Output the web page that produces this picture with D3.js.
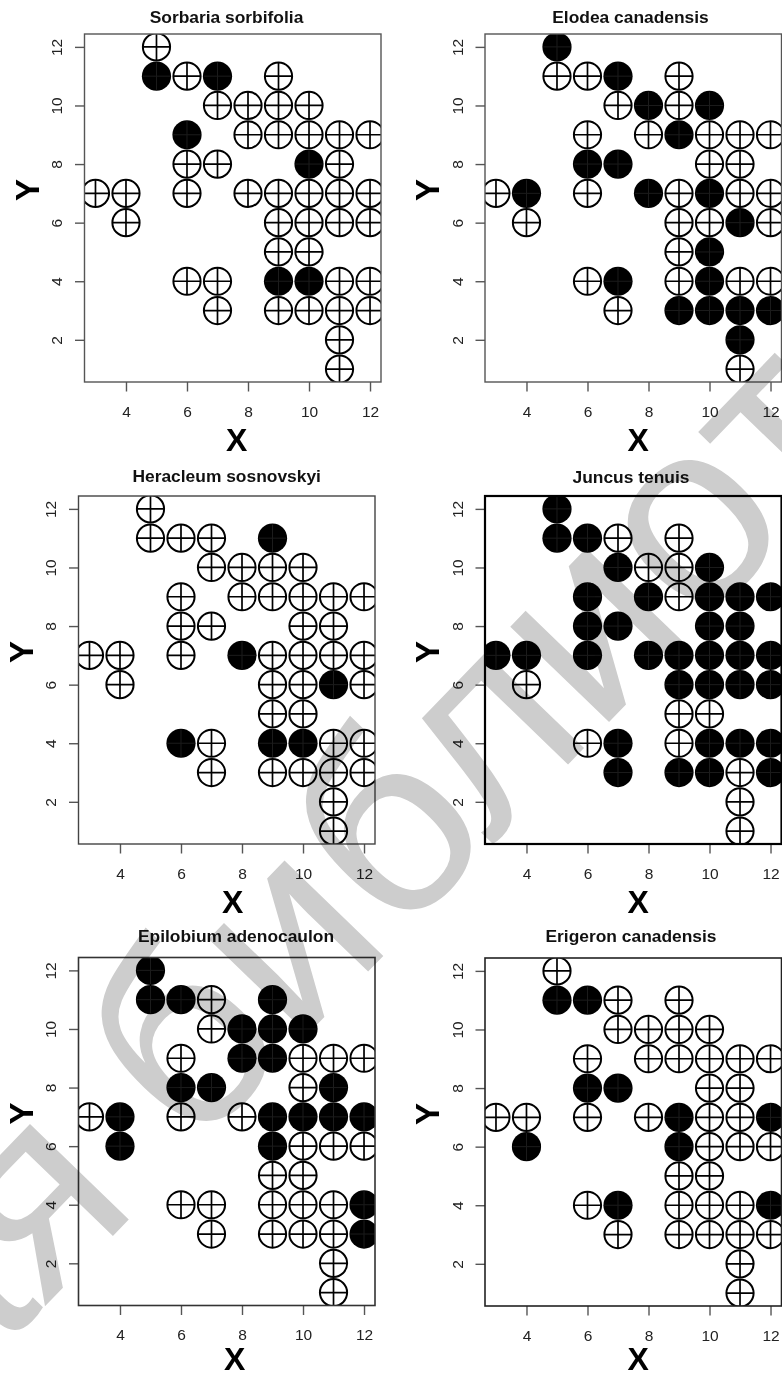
<!DOCTYPE html>
<html>
<head>
<meta charset="utf-8">
<script src="https://cdn.jsdelivr.net/npm/d3@7"></script>
<style>
  body { margin: 0; background: #fff; }
  svg { display: block; font-family: "Liberation Sans", Arial, Helvetica, sans-serif; }
</style>
</head>
<body>
<svg id="chart" width="782" height="1376"></svg>
<script>
// Grid cells of the survey plot (column X, row Y), listed row by row from the top.
const cellX = [5,  5, 6, 7, 9,  7, 8, 9, 10,  6, 8, 9, 10, 11, 12,  6, 7, 10, 11,
               3, 4, 6, 8, 9, 10, 11, 12,  4, 9, 10, 11, 12,  9, 10,
               6, 7, 9, 10, 11, 12,  7, 9, 10, 11, 12,  11,  11];
const cellY = [12,  11, 11, 11, 11,  10, 10, 10, 10,  9, 9, 9, 9, 9, 9,  8, 8, 8, 8,
               7, 7, 7, 7, 7, 7, 7, 7,  6, 6, 6, 6, 6,  5, 5,
               4, 4, 4, 4, 4, 4,  3, 3, 3, 3, 3,  2,  1];

// Presence (1) / absence (0) of each species in every cell, same order as above.
const sorbaria  = [0, 1,0,1,0, 0,0,0,0, 1,0,0,0,0,0, 0,0,1,0, 0,0,0,0,0,0,0,0, 0,0,0,0,0, 0,0, 0,0,1,1,0,0, 0,0,0,0,0, 0, 0];
const elodea    = [1, 0,0,1,0, 0,1,0,1, 0,0,1,0,0,0, 1,1,0,0, 0,1,0,1,0,1,0,0, 0,0,0,1,0, 0,1, 0,1,0,1,0,0, 0,1,1,1,1, 1, 0];
const heracleum = [0, 0,0,0,1, 0,0,0,0, 0,0,0,0,0,0, 0,0,0,0, 0,0,0,1,0,0,0,0, 0,0,0,1,0, 0,0, 1,0,1,1,0,0, 0,0,0,0,0, 0, 0];
const juncus    = [1, 1,1,0,0, 1,0,0,1, 1,1,0,1,1,1, 1,1,1,1, 1,1,1,1,1,1,1,1, 0,1,1,1,1, 0,0, 0,1,0,1,1,1, 1,1,1,0,1, 0, 0];
const epilobium = [1, 1,1,0,1, 0,1,1,1, 0,1,1,0,0,0, 1,1,0,1, 0,1,0,0,1,1,1,1, 1,1,0,0,0, 0,0, 0,0,0,0,0,1, 0,0,0,0,1, 0, 0];
const erigeron  = [0, 1,1,0,0, 0,0,0,0, 0,0,0,0,0,0, 1,1,0,0, 0,0,0,0,1,0,0,1, 1,1,0,0,0, 0,0, 0,1,0,0,0,1, 0,0,0,0,0, 0, 0];

const speciesNames = ["Sorbaria sorbifolia", "Elodea canadensis", "Heracleum sosnovskyi",
                      "Juncus tenuis", "Epilobium adenocaulon", "Erigeron canadensis"];
const speciesData = [sorbaria, elodea, heracleum, juncus, epilobium, erigeron];

const xTicks = [4, 6, 8, 10, 12];
const yTicks = [2, 4, 6, 8, 10, 12];
const xTitle = "X";
const yTitle = "Y";
const watermarkText = "Научная библиотека";

// Panel placement on the page
const panelLayout = [
  { left: 84.5, top: 34,    titleX: 226.5, titleY: 22.7,  frame: "#555", frameW: 1.4, xLabDx: 4, xLabDy: 68.5 },
  { left: 485,  top: 34,    titleX: 630.5, titleY: 22.7,  frame: "#555", frameW: 1.4, xLabDx: 5, xLabDy: 68.5 },
  { left: 78.5, top: 496,   titleX: 226.7, titleY: 481.7, frame: "#444", frameW: 1.4, xLabDx: 6, xLabDy: 68.5 },
  { left: 485,  top: 496,   titleX: 631,   titleY: 482.7, frame: "#000", frameW: 2.2, xLabDx: 5, xLabDy: 68.5 },
  { left: 78.5, top: 957.5, titleX: 236,   titleY: 941.7, frame: "#333", frameW: 1.6, xLabDx: 8, xLabDy: 64 },
  { left: 485,  top: 958,   titleX: 631,   titleY: 942,   frame: "#222", frameW: 1.6, xLabDx: 5, xLabDy: 63.5 }
];
const plotW = 296.5, plotH = 348;
const markR = 13.6;

const svg = d3.select("#chart");
svg.append("rect").attr("width", 782).attr("height", 1376).attr("fill", "#fff");

speciesNames.forEach((name, i) => {
  const L = panelLayout[i];
  const values = speciesData[i];
  const x = d3.scaleLinear().domain([2.64, 12.36]).range([L.left, L.left + plotW]);
  const y = d3.scaleLinear().domain([0.56, 12.44]).range([L.top + plotH, L.top]);

  const g = svg.append("g");
  const clipId = "clip" + i;
  g.append("clipPath").attr("id", clipId)
    .append("rect").attr("x", L.left).attr("y", L.top).attr("width", plotW).attr("height", plotH);

  // Title
  g.append("text")
    .attr("x", L.titleX).attr("y", L.titleY)
    .attr("text-anchor", "middle")
    .attr("font-size", 17.4).attr("font-weight", "bold").attr("fill", "#111")
    .text(name);

  // Cells: filled disc where the species occurs, crossed circle where it does not
  const pts = g.append("g").attr("clip-path", `url(#${clipId})`);
  const cells = cellX.map((cx, k) => ({ x: cx, y: cellY[k], v: values[k] }));
  const mark = pts.selectAll("g.cell").data(cells).join("g")
    .attr("class", "cell")
    .attr("transform", d => `translate(${x(d.x)},${y(d.y)})`);
  mark.append("circle")
    .attr("r", d => d.v ? markR + 1 : markR)
    .attr("fill", d => d.v ? "#000" : "none")
    .attr("stroke", d => d.v ? "none" : "#000")
    .attr("stroke-width", 2);
  mark.append("path")
    .attr("d", `M${-markR},0H${markR}M0,${-markR}V${markR}`)
    .attr("stroke", d => d.v ? "#1c1c1c" : "#000")
    .attr("stroke-width", d => d.v ? 1 : 1.7)
    .attr("fill", "none");

  // Axes
  const ax = g.append("g")
    .attr("transform", `translate(0,${L.top + plotH})`)
    .call(d3.axisBottom(x).tickValues(xTicks).tickSize(9.5).tickPadding(14).tickFormat(d3.format("d")));
  ax.select(".domain").remove();
  ax.attr("font-family", null);
  ax.selectAll("line").attr("stroke", "#555").attr("stroke-width", 1.4);
  ax.selectAll("text").attr("font-size", 15.5).attr("fill", "#222");

  const ay = g.append("g")
    .attr("transform", `translate(${L.left},0)`)
    .call(d3.axisLeft(y).tickValues(yTicks).tickSize(9.5).tickFormat(d3.format("d")));
  ay.select(".domain").remove();
  ay.attr("font-family", null);
  ay.selectAll("line").attr("stroke", "#555").attr("stroke-width", 1.4);
  ay.selectAll("text")
    .attr("font-size", 15.5).attr("fill", "#222")
    .attr("transform", "rotate(-90)")
    .attr("x", 0).attr("y", -28).attr("dy", "0.36em")
    .attr("text-anchor", "middle");

  // Frame
  g.append("rect")
    .attr("x", L.left).attr("y", L.top).attr("width", plotW).attr("height", plotH)
    .attr("fill", "none").attr("stroke", L.frame).attr("stroke-width", L.frameW);

  // Axis titles
  g.append("text")
    .attr("x", L.left + plotW / 2 + L.xLabDx).attr("y", L.top + plotH + L.xLabDy)
    .attr("text-anchor", "middle")
    .attr("font-size", 32).attr("font-weight", "bold").attr("fill", "#000")
    .text(xTitle);
  g.append("text")
    .attr("transform", `translate(${L.left - 57.5},${L.top + plotH / 2 - 18}) rotate(-90)`)
    .attr("text-anchor", "middle").attr("dy", "0.36em")
    .attr("font-size", 33).attr("font-weight", "bold").attr("fill", "#000")
    .text(yTitle);
});

// Diagonal library stamp laid over the figure
const wmSize = 260, wmAngle = -46;
const wm = svg.append("text")
  .attr("font-size", wmSize)
  .attr("fill", "#cdcdcd")
  .style("mix-blend-mode", "multiply")
  .attr("pointer-events", "none")
  .text(watermarkText);
// anchor: top of the letter "т" sits at this point on the page
const tIdx = watermarkText.lastIndexOf("т");
const ext = wm.node().getExtentOfChar(tIdx);
const ax0 = ext.x + ext.width / 2, ay0 = -0.52 * wmSize;
const rad = wmAngle * Math.PI / 180;
const rx = ax0 * Math.cos(rad) - ay0 * Math.sin(rad);
const ry = ax0 * Math.sin(rad) + ay0 * Math.cos(rad);
wm.attr("transform", `translate(${737 - rx},${395 - ry}) rotate(${wmAngle})`);
</script>
</body>
</html>
